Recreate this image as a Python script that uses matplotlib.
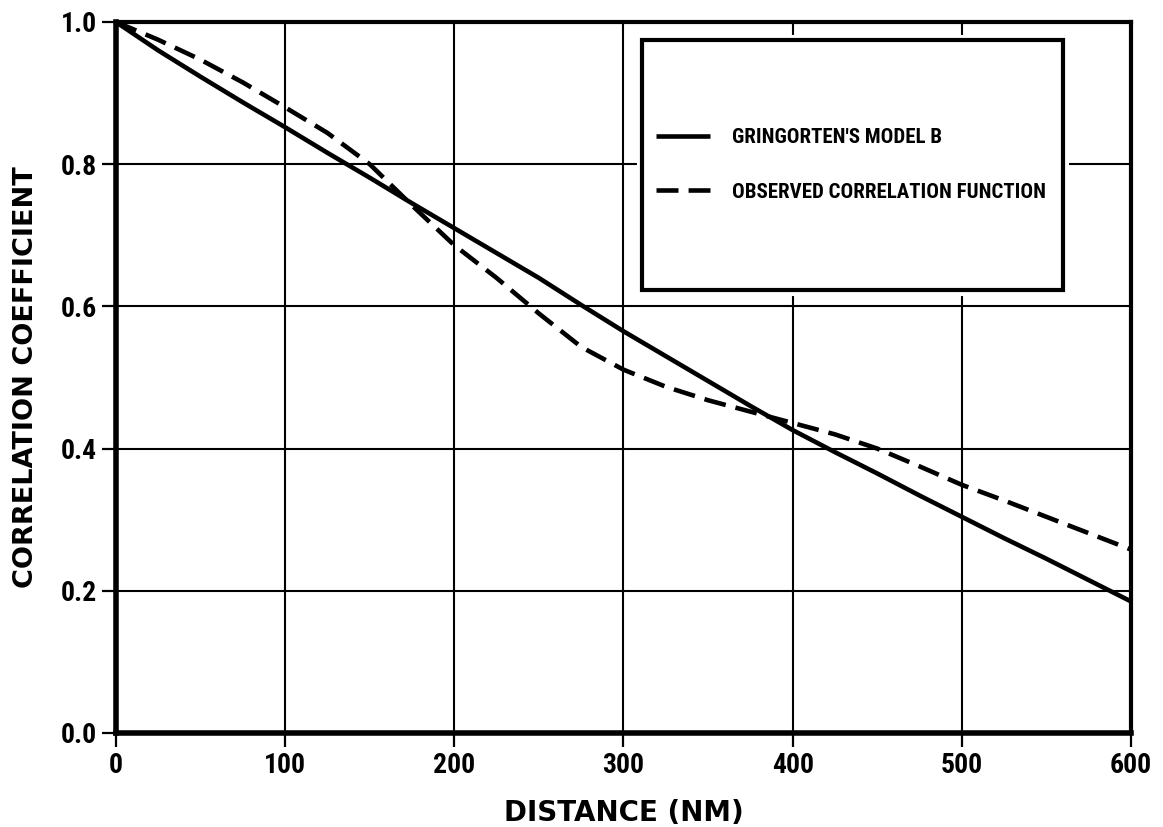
import matplotlib
matplotlib.use("Agg")
import matplotlib.pyplot as plt
from matplotlib import font_manager
from matplotlib.font_manager import FontProperties
from matplotlib.patches import Rectangle

# Correlation vs distance data
distance = [0, 25, 50, 75, 100, 125, 150, 175, 200, 225, 250, 275, 300,
            325, 350, 375, 400, 425, 450, 475, 500, 525, 550, 575, 600]
model_b = [1.0, 0.960, 0.923, 0.887, 0.852, 0.816, 0.781, 0.745, 0.710,
           0.675, 0.640, 0.602, 0.565, 0.530, 0.495, 0.460, 0.426, 0.395,
           0.365, 0.334, 0.304, 0.274, 0.245, 0.215, 0.185]
observed = [1.0, 0.975, 0.947, 0.915, 0.880, 0.844, 0.800, 0.742, 0.686,
            0.640, 0.590, 0.543, 0.511, 0.487, 0.468, 0.452, 0.436, 0.420,
            0.400, 0.375, 0.349, 0.327, 0.304, 0.281, 0.258]

x_ticks = [0, 100, 200, 300, 400, 500, 600]
y_ticks = [0.0, 0.2, 0.4, 0.6, 0.8, 1.0]
y_tick_labels = ['0.0', '0.2', '0.4', '0.6', '0.8', '1.0']


def find_narrow_bold():
    # look for a condensed bold face among the installed fonts
    wanted = ['Liberation Sans Narrow', 'Roboto Condensed', 'DejaVu Sans Condensed',
              'Noto Sans Condensed', 'Open Sans Condensed', 'Noto Sans SemiCondensed']
    fonts = font_manager.fontManager.ttflist

    def is_bold(f):
        w = f.weight
        if isinstance(w, str):
            w = font_manager.weight_dict.get(w, 400)
        return w >= 600

    for name in wanted:
        for f in fonts:
            if f.name == name and is_bold(f) and 'italic' not in f.style:
                return f.fname
    for f in fonts:
        if f.stretch in ('condensed', 'semi-condensed', 'extra-condensed') \
                and is_bold(f) and f.style == 'normal':
            return f.fname
    return None


narrow = find_narrow_bold()
if narrow:
    tick_font = FontProperties(fname=narrow, size=20)
    legend_font = FontProperties(fname=narrow, size=15)
else:
    tick_font = FontProperties(family='DejaVu Sans', weight='bold', size=19)
    legend_font = FontProperties(family='DejaVu Sans', weight='bold', size=11.5)

fig = plt.figure(figsize=(11.63, 8.27), dpi=100)
ax = fig.add_axes([0.0997, 0.1137, 0.8728, 0.8597])

ax.set_xlim(0, 600)
ax.set_ylim(0, 1.0)
ax.set_xticks(x_ticks)
ax.set_yticks(y_ticks)
ax.set_xticklabels([str(t) for t in x_ticks], fontproperties=tick_font)
ax.set_yticklabels(y_tick_labels, fontproperties=tick_font)
ax.tick_params(direction='out', length=10, width=1.6, pad=4, colors='black')

ax.grid(True, color='black', linewidth=1.5)
ax.set_axisbelow(True)

for side in ['left', 'bottom']:
    ax.spines[side].set_linewidth(4)
for side in ['top', 'right']:
    ax.spines[side].set_linewidth(3)

ax.plot(distance, model_b, color='black', linewidth=3.3,
        solid_capstyle='butt', label="GRINGORTEN'S MODEL B", zorder=3)
ax.plot(distance, observed, color='black', linewidth=3.3,
        dashes=(4.8, 2.2), label='OBSERVED CORRELATION FUNCTION', zorder=3)

# legend box with a white margin that interrupts the grid
ax.add_patch(Rectangle((0.518, 0.623), 0.415, 0.352, transform=ax.transAxes,
                       facecolor='white', edgecolor='white', linewidth=8,
                       zorder=4))
ax.add_patch(Rectangle((0.518, 0.623), 0.415, 0.352, transform=ax.transAxes,
                       facecolor='white', edgecolor='black', linewidth=3,
                       zorder=5))

leg = ax.legend(loc='center left', bbox_to_anchor=(0.522, 0.799),
                frameon=False, borderpad=0, handlelength=2.6,
                handletextpad=1.05, labelspacing=1.7, prop=legend_font)
leg.set_zorder(6)

ax.set_xlabel('DISTANCE (NM)', family='DejaVu Sans', fontweight='bold',
              fontsize=20, labelpad=14)
ax.set_ylabel('CORRELATION COEFFICIENT', family='DejaVu Sans',
              fontweight='bold', fontsize=19.5)
ax.yaxis.set_label_coords(-0.076, 0.5)

fig.savefig('out.png', dpi=100)
